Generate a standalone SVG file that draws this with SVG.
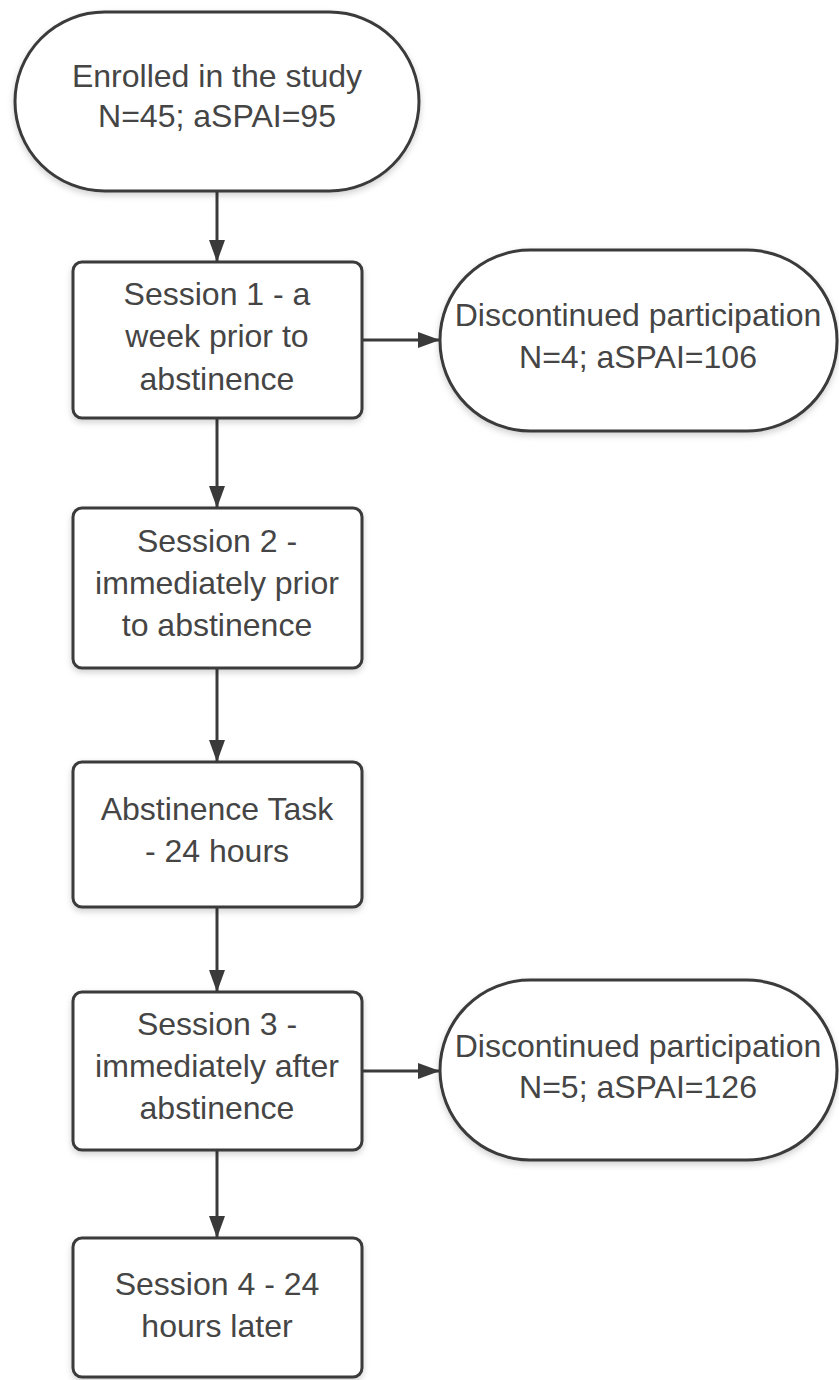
<svg xmlns="http://www.w3.org/2000/svg" width="839" height="1380" viewBox="0 0 839 1380">
<defs>
<filter id="sh" x="-10%" y="-10%" width="120%" height="130%">
<feDropShadow dx="0" dy="3" stdDeviation="3" flood-color="#000" flood-opacity="0.18"/>
</filter>
<marker id="ah" markerUnits="userSpaceOnUse" markerWidth="22" markerHeight="16" refX="21" refY="8" orient="auto">
<path d="M0,0 L22,8 L0,16 Z" fill="#3a3a3a"/>
</marker>
</defs>
<style>
.shape{fill:#ffffff;stroke:#3a3a3a;stroke-width:3;filter:url(#sh)}
.t{font-family:"Liberation Sans",Arial,sans-serif;font-size:30.5px;fill:#454545;text-anchor:middle}
.c{fill:none;stroke:#3a3a3a;stroke-width:3;marker-end:url(#ah)}
</style>
<rect width="839" height="1380" fill="#ffffff"/>
<g id="connectors">
<line class="c" x1="217" y1="191" x2="217" y2="261"/>
<line class="c" x1="362" y1="340" x2="439" y2="340"/>
<line class="c" x1="217" y1="418" x2="217" y2="507"/>
<line class="c" x1="217" y1="668" x2="217" y2="761"/>
<line class="c" x1="217" y1="907" x2="217" y2="991"/>
<line class="c" x1="362" y1="1071" x2="439" y2="1071"/>
<line class="c" x1="217" y1="1150" x2="217" y2="1237"/>
</g>
<g id="enrolled">
<rect class="shape" x="15" y="12" width="404" height="179" rx="89.5" ry="89.5"/>
<g transform="matrix(1.05 0 0 1 -10.85 0)">
<text class="t" x="217" y="87">Enrolled in the study</text>
<text class="t" x="217" y="127">N=45; aSPAI=95</text>
</g>
</g>
<g id="session1">
<rect class="shape" x="73" y="262" width="289" height="156" rx="9" ry="9"/>
<g transform="matrix(1.05 0 0 1 -10.85 0)">
<text class="t" x="217" y="305">Session 1 - a</text>
<text class="t" x="217" y="347">week prior to</text>
<text class="t" x="217" y="390">abstinence</text>
</g>
</g>
<g id="discontinued1">
<rect class="shape" x="440" y="250" width="397" height="181" rx="90" ry="90"/>
<g transform="matrix(1.05 0 0 1 -31.9 0)">
<text class="t" x="638" y="326">Discontinued participation</text>
<text class="t" x="638" y="368">N=4; aSPAI=106</text>
</g>
</g>
<g id="session2">
<rect class="shape" x="73" y="508" width="289" height="160" rx="9" ry="9"/>
<g transform="matrix(1.05 0 0 1 -10.85 0)">
<text class="t" x="217" y="552">Session 2 -</text>
<text class="t" x="217" y="594">immediately prior</text>
<text class="t" x="217" y="636">to abstinence</text>
</g>
</g>
<g id="abstinence">
<rect class="shape" x="73" y="762" width="289" height="145" rx="9" ry="9"/>
<g transform="matrix(1.05 0 0 1 -10.85 0)">
<text class="t" x="217" y="820">Abstinence Task</text>
<text class="t" x="217" y="862">- 24 hours</text>
</g>
</g>
<g id="session3">
<rect class="shape" x="73" y="992" width="289" height="158" rx="9" ry="9"/>
<g transform="matrix(1.05 0 0 1 -10.85 0)">
<text class="t" x="217" y="1035">Session 3 -</text>
<text class="t" x="217" y="1077">immediately after</text>
<text class="t" x="217" y="1119">abstinence</text>
</g>
</g>
<g id="discontinued2">
<rect class="shape" x="440" y="980" width="397" height="180" rx="90" ry="90"/>
<g transform="matrix(1.05 0 0 1 -31.9 0)">
<text class="t" x="638" y="1057">Discontinued participation</text>
<text class="t" x="638" y="1098">N=5; aSPAI=126</text>
</g>
</g>
<g id="session4">
<rect class="shape" x="73" y="1238" width="289" height="139" rx="9" ry="9"/>
<g transform="matrix(1.05 0 0 1 -10.85 0)">
<text class="t" x="217" y="1295">Session 4 - 24</text>
<text class="t" x="217" y="1337">hours later</text>
</g>
</g>
</svg>
